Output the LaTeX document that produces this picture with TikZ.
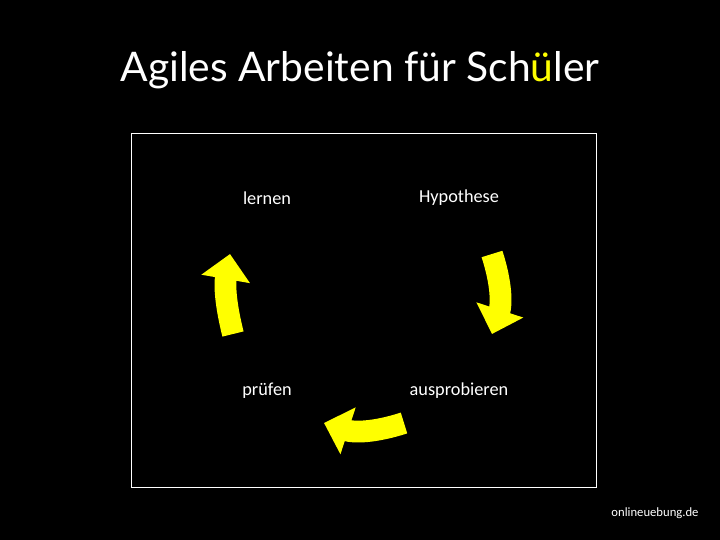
\documentclass[tikz,border=0pt]{standalone}
\usepackage{fontspec}
\setmainfont{Carlito}
\newfontfamily\titlefont{Lato}
\usetikzlibrary{arrows.meta}

\definecolor{signal}{RGB}{255,255,0}

\tikzset{
  step label/.style={text=white, font=\fontsize{13}{15}\selectfont},
  cycle arrow/.style={signal, line width=15.5pt,
    -{Triangle[width=34pt, length=18pt]}},
}

\begin{document}
\begin{tikzpicture}[thick]

  \fill[black] (0, 0) rectangle (18, 13.5);
  \useasboundingbox (0, 0) rectangle (18, 13.5);

  \node[text=white, font=\titlefont\fontsize{29}{34}\selectfont] (title) at (9, 11.75)
    {Agiles Arbeiten für Sch\textcolor{signal}{ü}ler};

  \draw[white, line width=0.6pt] (3.275, 1.325) rectangle (14.9, 10.175);

  \node[step label] (lernen) at (6.675, 8.55) {lernen};
  \node[step label] (hypo)   at (11.475, 8.55) {Hypothese};
  \node[step label] (prob)   at (11.475, 3.725) {ausprobieren};
  \node[step label] (pruef)  at (6.675, 3.725) {prüfen};

  \coordinate (r1) at (12.3, 7.15);
  \coordinate (r2) at (12.3, 5.15);
  \coordinate (b1) at (10.1, 2.925);
  \coordinate (b2) at (8.1, 2.925);
  \coordinate (l1) at (5.825, 5.15);
  \coordinate (l2) at (5.75, 7.15);

  \draw[cycle arrow] (r1) to[bend left=18] (r2);
  \draw[cycle arrow] (b1) to[bend left=18] (b2);
  \draw[cycle arrow] (l1) to[bend left=12] (l2);

  \node[text=white, font=\fontsize{9}{11}\selectfont] (site) at (16.375, 0.675) {onlineuebung.de};

\end{tikzpicture}
\end{document}
